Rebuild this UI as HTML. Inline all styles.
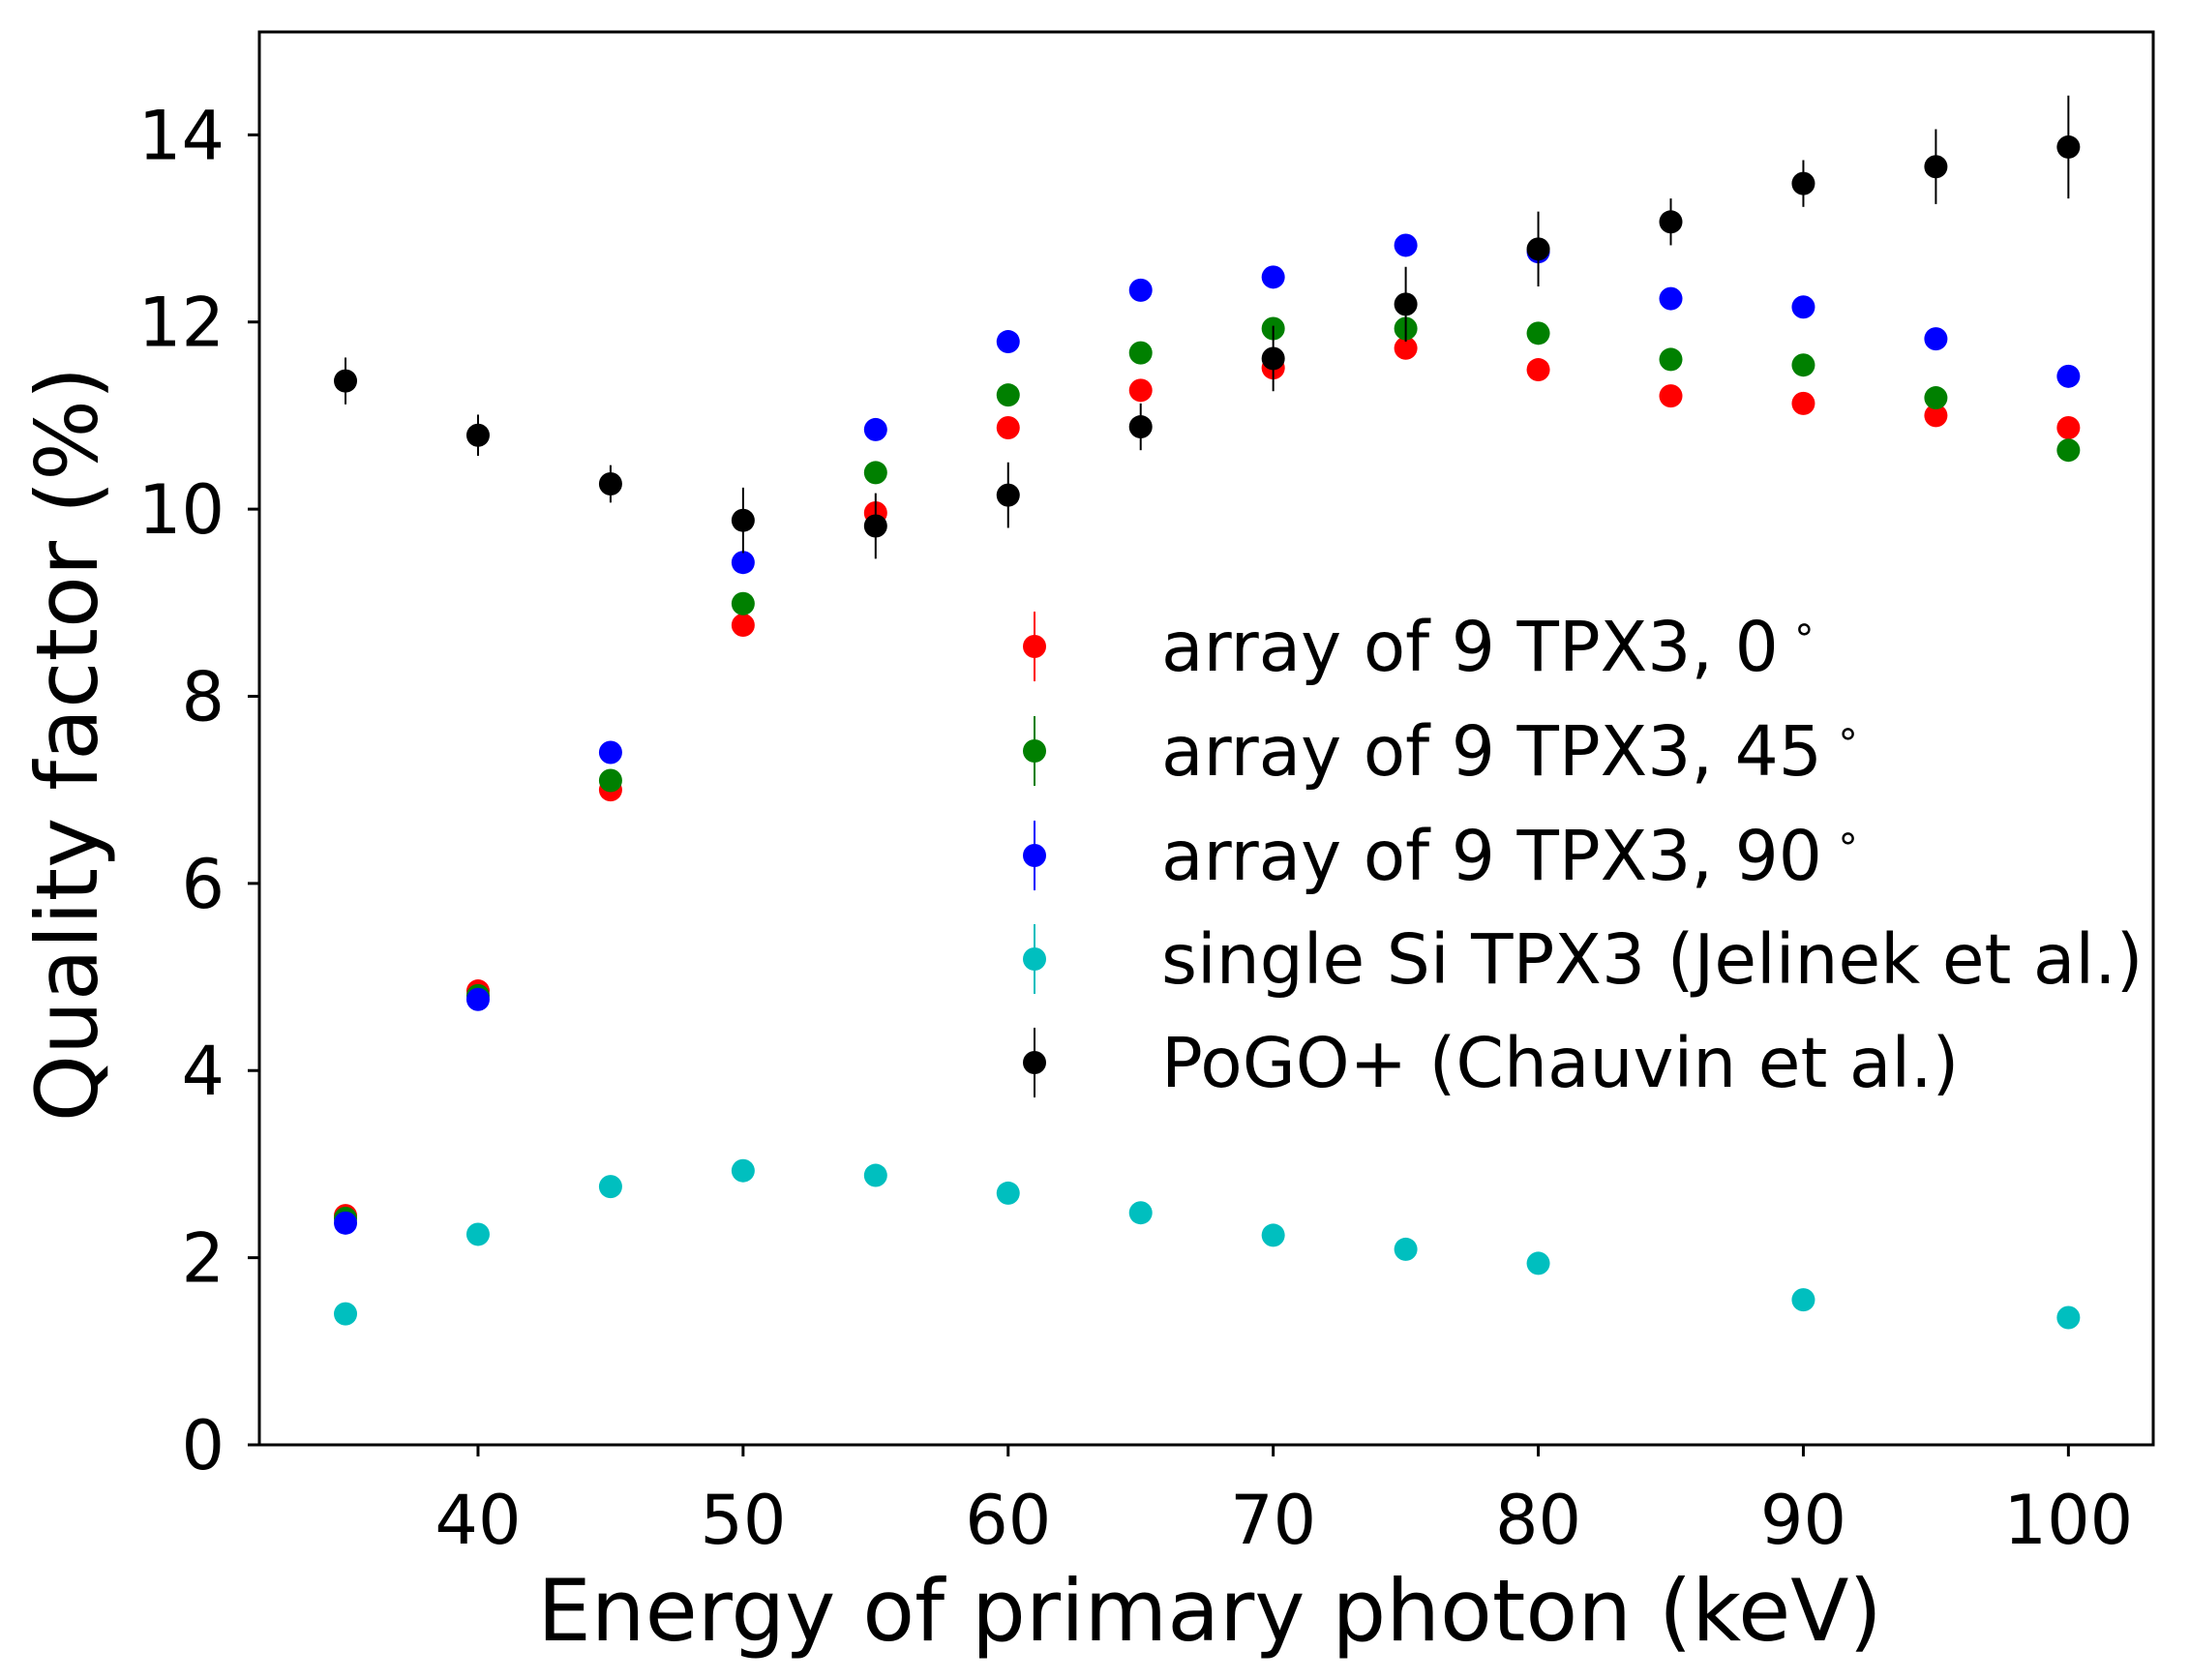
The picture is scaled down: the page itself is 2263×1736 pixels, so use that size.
<!DOCTYPE html>
<html><head><meta charset="utf-8"><style>
html,body{margin:0;padding:0;background:#fff}
svg{display:block;font-family:"DejaVu Sans","Liberation Sans",sans-serif}
</style></head><body>
<svg id="chart" width="2263" height="1736" viewBox="0 0 2263 1736" xmlns="http://www.w3.org/2000/svg">
<g id="marks"></g>
<g id="axes"></g>
<g id="legend"></g>
</svg>
<script>
const xTicks=[40,50,60,70,80,90,100];
const yTicks=[0,2,4,6,8,10,12,14];
const energies=[35,40,45,50,55,60,65,70,75,80,85,90,95,100];
const red0=[2.45,4.85,7.0,8.76,9.96,10.87,11.27,11.51,11.72,11.49,11.21,11.13,11.0,10.87];
const green45=[2.42,4.8,7.1,8.99,10.39,11.22,11.67,11.93,11.93,11.88,11.6,11.54,11.19,10.63];
const blue90=[2.37,4.76,7.4,9.43,10.85,11.79,12.34,12.48,12.82,12.75,12.25,12.16,11.82,11.42];
const cyanX=[35,40,45,50,55,60,65,70,75,80,90,100];
const cyanY=[1.40,2.25,2.76,2.93,2.88,2.69,2.48,2.24,2.09,1.94,1.55,1.36];
const pogoY=[11.37,10.79,10.27,9.88,9.82,10.15,10.88,11.61,12.19,12.78,13.07,13.48,13.66,13.87];
const pogoErr=[0.25,0.22,0.2,0.35,0.35,0.35,0.25,0.35,0.4,0.4,0.25,0.25,0.4,0.55];
const legendLabels=["array of 9 TPX3, 0","array of 9 TPX3, 45","array of 9 TPX3, 90","single Si TPX3 (Jelinek et al.)","PoGO+ (Chauvin et al.)"];
const legendDegree=[true,true,true,false,false];

const NS="http://www.w3.org/2000/svg";
const L=268,R=2225,T=33,B=1493;
const X0=31.75,X1=103.2,Y0=0,Y1=15.1;
const sx=v=>L+(v-X0)/(X1-X0)*(R-L);
const sy=v=>B-(v-Y0)/(Y1-Y0)*(B-T);
function mk(tag,attrs,parent){const e=document.createElementNS(NS,tag);for(const k in attrs)e.setAttribute(k,attrs[k]);parent.appendChild(e);return e;}
const marks=document.getElementById('marks'),axes=document.getElementById('axes'),legend=document.getElementById('legend');

function series(xs,ys,errs,color,name){
  const g=mk('g',{},marks);
  
  
  xs.forEach((x,i)=>{
    if(errs){const l=mk('line',{x1:sx(x),x2:sx(x),y1:sy(ys[i]-errs[i]),y2:sy(ys[i]+errs[i]),stroke:color,'stroke-width':2},g);
      
      }
    const c=mk('circle',{cx:sx(x),cy:sy(ys[i]),r:12,fill:color},g);
    
    
  });
}
series(energies,red0,null,'#ff0000','array-0deg');
series(energies,green45,null,'#008000','array-45deg');
series(energies,blue90,null,'#0000ff','array-90deg');
series(cyanX,cyanY,null,'#00bfbf','single-si-tpx3');
series(energies,pogoY,pogoErr,'#000000','pogo-plus');

const fr=mk('rect',{x:L,y:T,width:R-L,height:B-T,fill:'none',stroke:'#000','stroke-width':3},axes);


xTicks.forEach(v=>{
  mk('line',{x1:sx(v),x2:sx(v),y1:B,y2:B+12,stroke:'#000','stroke-width':3},axes);
  const t=mk('text',{x:sx(v),y:1595,'font-size':70,'text-anchor':'middle'},axes);
  t.textContent=v;
  
  
});
yTicks.forEach(v=>{
  mk('line',{x1:L-12,x2:L,y1:sy(v),y2:sy(v),stroke:'#000','stroke-width':3},axes);
  const t=mk('text',{x:232,y:sy(v)+25,'font-size':70,'text-anchor':'end'},axes);
  t.textContent=v;
  
  
});
const xl=mk('text',{x:1250,y:1695,'font-size':88,'text-anchor':'middle'},axes);
xl.textContent='Energy of primary photon (keV)';


const yl=mk('text',{x:0,y:0,'font-size':88,'text-anchor':'middle',transform:'translate(100,769) rotate(-90)'},axes);
yl.textContent='Quality factor (%)';



const lcolors=['#ff0000','#008000','#0000ff','#00bfbf','#000000'];
const lrows=[668,776,884,991,1098];
legendLabels.forEach((lab,i)=>{
  const g=mk('g',{},legend);
  
  
  mk('line',{x1:1069,x2:1069,y1:lrows[i]-36,y2:lrows[i]+36,stroke:lcolors[i],'stroke-width':2},g);
  mk('circle',{cx:1069,cy:lrows[i],r:12,fill:lcolors[i]},g);
  const t=mk('text',{x:1200,y:lrows[i]+25,'font-size':71},g);
  t.textContent=lab;
  if(legendDegree[i]){const d=mk('tspan',{dx:14,dy:-30,'font-size':40},t);d.textContent='∘';}
  
  
});
</script>
</body></html>
